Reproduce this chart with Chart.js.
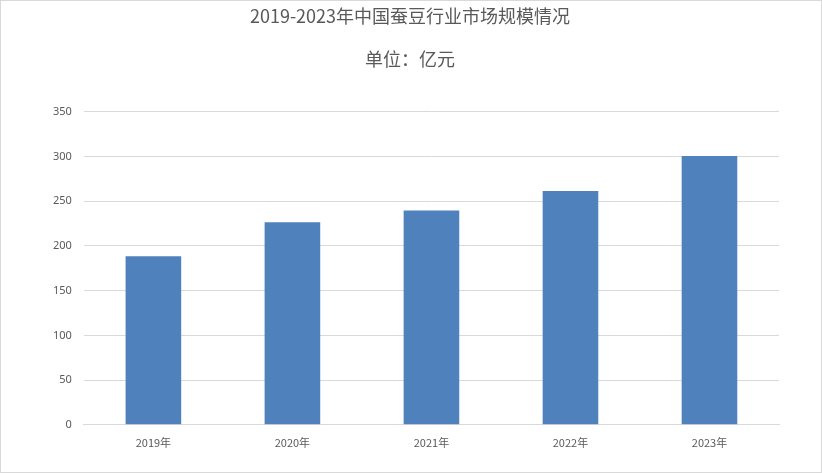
<!DOCTYPE html>
<html><head><meta charset="utf-8">
<script src="https://cdn.jsdelivr.net/npm/chart.js@4"></script>
<style>html,body{margin:0;padding:0;background:#fff}#w{width:820px;height:471px;border:1px solid #d9d9d9;position:relative}</style>
</head><body><div id="w"><canvas id="c"></canvas></div>
<script>
const categories=["2019年","2020年","2021年","2022年","2023年"];
const values=[188.5,226.5,239.5,261.5,300.5];
const yTicks=[0,50,100,150,200,250,300,350];
new Chart(document.getElementById('c'),{
type:'bar',
data:{labels:categories,datasets:[{data:values,backgroundColor:'#4f81bd',barPercentage:0.4,categoryPercentage:1}]},
options:{responsive:true,maintainAspectRatio:false,animation:false,
layout:{padding:{left:40,right:42,top:0,bottom:20}},
plugins:{legend:{display:false},tooltip:{enabled:false},
title:{display:true,text:['2019-2023年中国蚕豆行业市场规模情况','','单位：亿元'],color:'#595959',font:{family:'Noto Sans CJK SC',size:18,weight:'normal'},padding:{top:4,bottom:42},lineHeight:1.25}},
scales:{
x:{grid:{display:false},border:{color:'#d9d9d9'},ticks:{color:'#595959',font:{family:'Noto Sans CJK SC',size:11}}},
y:{min:0,max:350,afterBuildTicks:a=>{a.ticks=yTicks.map(v=>({value:v}))},grid:{color:'#d9d9d9',drawTicks:false},border:{display:false},ticks:{color:'#595959',padding:12,font:{family:'Noto Sans',size:11}}}
}}});
</script></body></html>
